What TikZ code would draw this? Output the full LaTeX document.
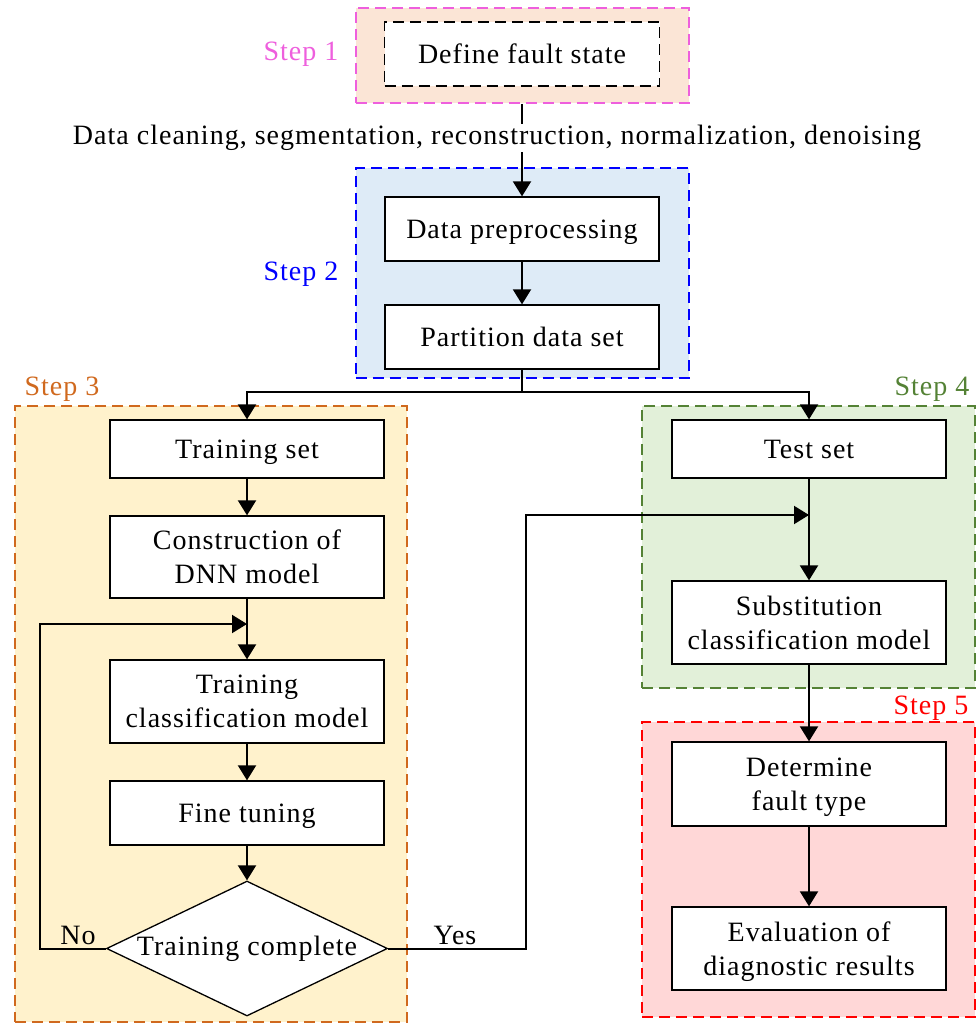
\documentclass[tikz,border=0pt]{standalone}
\usepackage{fontspec}
\setmainfont{Liberation Serif}[LetterSpace=3.6]
\usetikzlibrary{arrows.meta,shapes.geometric}
\definecolor{sonefill}{HTML}{FBE5D6}
\definecolor{soneline}{HTML}{EE5FDD}
\definecolor{stwofill}{HTML}{DEEBF7}
\definecolor{stwoline}{HTML}{0000FF}
\definecolor{sthreefill}{HTML}{FFF2CC}
\definecolor{sthreeline}{HTML}{D0691E}
\definecolor{sfourfill}{HTML}{E2F0D9}
\definecolor{sfourline}{HTML}{548235}
\definecolor{sfivefill}{HTML}{FFD7D7}
\definecolor{sfiveline}{HTML}{FF0000}
\newcommand{\fsz}{\fontsize{28}{34}\selectfont}
\begin{document}
\begin{tikzpicture}[x=1pt,y=-1pt,
  box/.style={draw, line width=1.3pt, fill=white, minimum width=274pt, align=center, font=\fsz, inner sep=0pt, text depth=0pt},
  flow/.style={line width=2pt, -{Triangle[length=15pt,width=18pt]}},
  plain/.style={line width=2pt},
  grp/.style={draw, dash pattern=on 11pt off 6pt, line width=2pt, inner sep=0pt},
  steplab/.style={font=\fsz, inner sep=0pt}
]
\useasboundingbox (0,0) rectangle (979,1024);
% group frames
\node[grp, draw=soneline, fill=sonefill, minimum width=333pt, minimum height=95pt] (g1) at (522,55.5) {};
\node[grp, draw=stwoline, fill=stwofill, minimum width=333pt, minimum height=210pt] (g2) at (522,273) {};
\node[grp, draw=sthreeline, fill=sthreefill, minimum width=392pt, minimum height=616pt] (g3) at (211,714) {};
\node[grp, draw=sfourline, fill=sfourfill, minimum width=333pt, minimum height=282pt] (g4) at (808.5,547) {};
\node[grp, draw=sfiveline, fill=sfivefill, minimum width=333pt, minimum height=295pt] (g5) at (808.5,869.5) {};
% step labels
\node[steplab, text=soneline] (l1) at (301,54) {Step 1};
\node[steplab, text=stwoline] (l2) at (301,274) {Step 2};
\node[steplab, text=sthreeline] (l3) at (62,389) {Step 3};
\node[steplab, text=sfourline] (l4) at (932,389) {Step 4};
\node[steplab, text=sfiveline] (l5) at (931,708) {Step 5};
% boxes
\node[box, dash pattern=on 11pt off 6pt, minimum width=275pt, minimum height=64pt] (dfs) at (522,54) {Define fault state};
\node[box, minimum height=64pt] (dp) at (522,229) {Data preprocessing};
\node[box, minimum height=64pt] (pds) at (522,337) {Partition data set};
\node[box, minimum height=58pt] (ts) at (247,449) {Training set};
\node[box, minimum height=82pt] (cdnn) at (247,557) {Construction of\\DNN model};
\node[box, minimum height=83pt] (tcm) at (247,701.5) {Training\\classification model};
\node[box, minimum height=64pt] (ft) at (247,813) {Fine tuning};
\node[draw, diamond, aspect=2.08, fill=white, line width=1.3pt, inner sep=0pt, minimum width=281pt, minimum height=135pt, font=\fsz] (dia) at (247,948.5) {Training complete};
\node[box, minimum height=58pt] (tset) at (809,449) {Test set};
\node[box, minimum height=83pt] (scm) at (809,622.5) {Substitution\\classification model};
\node[box, minimum height=84pt] (dft) at (809,784) {Determine\\fault type};
\node[box, minimum height=83pt] (ev) at (809,948.5) {Evaluation of\\diagnostic results};
% connectors
\coordinate (split) at (522,392);
\coordinate (j1) at (247,624);
\coordinate (j2) at (809,515);
\draw[flow] (g1.south) -- (dp.north);
\node[font=\fsz, fill=white, inner sep=1pt] (cap) at (497,138) {Data cleaning, segmentation, reconstruction, normalization, denoising};
\draw[flow] (dp) -- (pds);
\draw[plain] (pds.south) -- (split);
\draw[flow] (split) -| (ts.north);
\draw[flow] (split) -| (tset.north);
\draw[flow] (ts) -- (cdnn);
\draw[flow] (cdnn) -- (tcm);
\draw[flow] (tcm) -- (ft);
\draw[flow] (ft) -- (dia);
\draw[flow] (dia.west) -- (40,948.5) |- (j1);
\draw[flow] (dia.east) -- (526,948.5) |- (j2);
\draw[flow] (tset) -- (scm);
\draw[flow] (scm) -- (dft);
\draw[flow] (dft) -- (ev);
\node[font=\fsz, inner sep=0pt] (no) at (78,935) {No};
\node[font=\fsz, inner sep=0pt] (yes) at (455,935) {Yes};
\end{tikzpicture}
\end{document}
